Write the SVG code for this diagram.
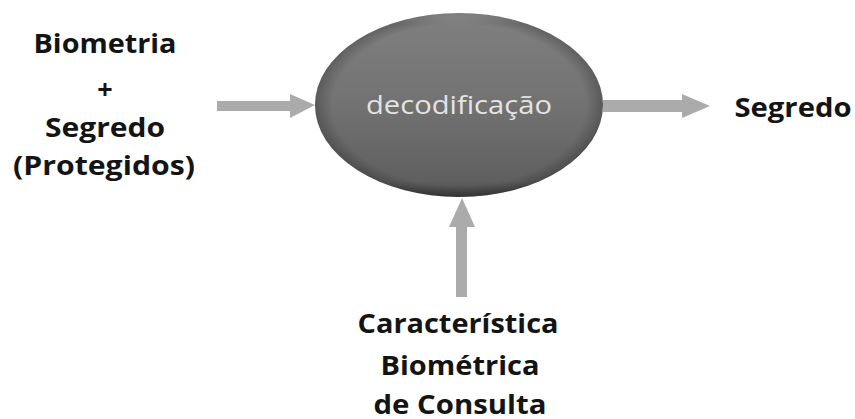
<svg xmlns="http://www.w3.org/2000/svg" width="855" height="419" viewBox="0 0 855 419">
<defs>
<linearGradient id="body" x1="0" y1="0" x2="0" y2="1">
<stop offset="0" stop-color="#a2a2a2"/>
<stop offset="0.06" stop-color="#7e7e7e"/>
<stop offset="0.5" stop-color="#727272"/>
<stop offset="0.92" stop-color="#5f5f5f"/>
<stop offset="1" stop-color="#404040"/>
</linearGradient>
<radialGradient id="rim" cx="0.5" cy="0.5" r="0.5">
<stop offset="0.88" stop-color="#000" stop-opacity="0"/>
<stop offset="1" stop-color="#000" stop-opacity="0.22"/>
</radialGradient>
<style>
.lbl{font-family:"Open Sans","Liberation Sans",Arial,sans-serif;font-weight:bold;font-size:27px;fill:#141414;text-anchor:middle}
.arr{fill:#ababab}
</style>
</defs>
<g id="connectors">
<polygon class="arr" points="217,101 290,101 290,94 315,105 290,118 290,111 217,111"/>
<polygon class="arr" points="603,100 682,100 682,94 710,106 682,118 682,112 603,112"/>
<polygon class="arr" points="456,297 456,227 449,227 462,198 475,227 467,227 467,297"/>
</g>
<g id="node-decodificacao">
<ellipse cx="459" cy="105" rx="144" ry="92" fill="url(#body)"/>
<ellipse cx="459" cy="105" rx="144" ry="92" fill="url(#rim)"/>
<text x="459" y="114" font-family="'Open Sans','Liberation Sans',Arial,sans-serif" font-size="25" fill="#e4e4e4" text-anchor="middle" textLength="186" lengthAdjust="spacingAndGlyphs">decodificação</text>
</g>
<g id="node-input">
<text class="lbl" x="105" y="53" textLength="143" lengthAdjust="spacingAndGlyphs">Biometria</text>
<text class="lbl" x="105" y="99">+</text>
<text class="lbl" x="105" y="137" textLength="120" lengthAdjust="spacingAndGlyphs">Segredo</text>
<text class="lbl" x="104" y="175" textLength="182" lengthAdjust="spacingAndGlyphs">(Protegidos)</text>
</g>
<g id="node-output">
<text class="lbl" x="793" y="117" textLength="117" lengthAdjust="spacingAndGlyphs">Segredo</text>
</g>
<g id="node-query">
<text class="lbl" x="458" y="333" textLength="201" lengthAdjust="spacingAndGlyphs">Característica</text>
<text class="lbl" x="460" y="375" textLength="159" lengthAdjust="spacingAndGlyphs">Biométrica</text>
<text class="lbl" x="460" y="414" textLength="173" lengthAdjust="spacingAndGlyphs">de Consulta</text>
</g>
</svg>
